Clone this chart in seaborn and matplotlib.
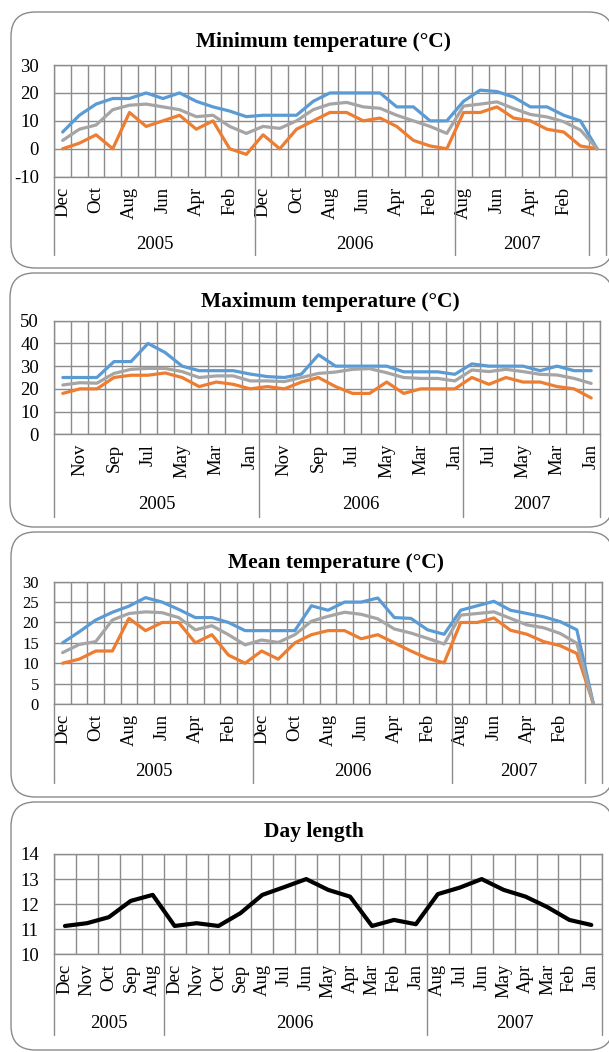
import numpy as np
import pandas as pd
import matplotlib
matplotlib.use('Agg')
import matplotlib.pyplot as plt
import matplotlib.transforms as mtransforms
from matplotlib.patches import FancyBboxPatch
import seaborn as sns

# --- data ---
months_33 = ['Dec', 'Nov', 'Oct', 'Sep', 'Aug', 'Jul', 'Jun', 'May', 'Apr', 'Mar', 'Feb', 'Jan',
             'Dec', 'Nov', 'Oct', 'Sep', 'Aug', 'Jul', 'Jun', 'May', 'Apr', 'Mar', 'Feb', 'Jan',
             'Aug', 'Jul', 'Jun', 'May', 'Apr', 'Mar', 'Feb', 'Jan', '']
months_32 = months_33[:32]
years_33 = [('2005', 12), ('2006', 12), ('2007', 8), ('', 1)]
years_32 = [('2005', 12), ('2006', 12), ('2007', 8)]

min_high = [6, 12, 16, 18, 18, 20, 18, 20, 17, 15, 13.5, 11.5, 12, 12, 12, 17, 20, 20, 20, 20,
            15, 15, 10, 10, 17, 21, 20.5, 18.5, 15, 15, 12, 10, 0]
min_low = [0, 2, 5, 0, 13, 8, 10, 12, 7, 10, 0, -2, 5, 0, 7, 10, 13, 13, 10, 11,
           8, 3, 1, 0, 13, 13, 15, 11, 10, 7, 6, 1, 0]
min_avg = [3, 7, 8.5, 14, 15.6, 16, 15, 14, 11.5, 12, 8, 5.5, 8, 7.3, 10, 14, 16, 16.6, 15, 14.5,
           12, 10, 8, 5.5, 15.3, 16, 16.8, 14.4, 12.3, 11.4, 9.7, 6.7, 0]

max_high = [25, 25, 25, 32, 32, 40, 36, 30, 28, 28, 28, 26.5, 25.4, 25, 26.5, 35, 30, 30, 30, 30,
            27.5, 27.5, 27.5, 26.4, 31, 30, 30, 30, 28, 30, 28, 28]
max_low = [18, 20, 20, 25, 26, 26, 27, 25, 21, 23, 22, 20, 21, 20, 23, 25, 21, 18, 18, 23,
           18, 20, 20, 20, 25, 22, 25, 23, 23, 21, 20, 16]
max_avg = [21.7, 22.7, 22.5, 26.8, 28.6, 29, 29, 27.6, 25, 25.7, 25.7, 23.5, 23.5, 23.2, 25, 26.8,
           27.4, 28.6, 28.9, 27.1, 25, 24.6, 24.6, 23.5, 28.3, 27.6, 28.6, 27.6, 26.4, 26.1, 24.6, 22.4]

mean_high = [15, 17.7, 20.6, 22.5, 24, 26.1, 25, 23.2, 21.2, 21.2, 20, 18, 18, 18, 18, 24.1, 23, 25,
             25, 26, 21.2, 21, 18.2, 17.1, 23, 24.1, 25.2, 23, 22.2, 21.4, 20.2, 18.2, 0]
mean_low = [10, 11, 13, 13, 21, 18, 20, 20, 15, 17, 12, 10, 13, 11, 15, 17, 18, 18, 16, 17,
            15, 13, 11.2, 10.1, 20, 20, 21.1, 18.1, 17.1, 15.3, 14.3, 12.4, 0]
mean_avg = [12.6, 14.6, 15.3, 20.6, 22.2, 22.6, 22.4, 21.2, 18.2, 19.2, 17, 14.5, 15.7, 15.1, 17,
            20.3, 21.5, 22.5, 22, 20.9, 18.4, 17.4, 16.1, 14.7, 21.8, 22.2, 22.6, 21, 19.4, 18.7,
            17.3, 14.9, 0]

day_months = ['Dec', 'Nov', 'Oct', 'Sep', 'Aug',
              'Dec', 'Nov', 'Oct', 'Sep', 'Aug', 'Jul', 'Jun', 'May', 'Apr', 'Mar', 'Feb', 'Jan',
              'Aug', 'Jul', 'Jun', 'May', 'Apr', 'Mar', 'Feb', 'Jan']
day_years = [('2005', 5), ('2006', 12), ('2007', 8)]
day_length = [11.13, 11.24, 11.48, 12.13, 12.37, 11.13, 11.24, 11.13, 11.64, 12.37, 12.68, 13.0,
              12.57, 12.3, 11.13, 11.37, 11.2, 12.4, 12.66, 13.0, 12.57, 12.3, 11.88, 11.37, 11.17]

BLUE, ORANGE, GRAY = '#5B9BD5', '#ED7D31', '#A5A5A5'
GRID = '#8C8C8C'
W, H = 609, 1052

sns.set_style('white')
plt.rcParams['font.family'] = ['Liberation Serif', 'DejaVu Serif']
plt.rcParams['axes.unicode_minus'] = False
plt.rcParams['text.color'] = 'black'
plt.rcParams['xtick.color'] = 'black'
plt.rcParams['ytick.color'] = 'black'

fig = plt.figure(figsize=(W / 100, H / 100), dpi=100)


def add_box(x0, y0, x1, y1):
    box = FancyBboxPatch((x0 / W, 1 - y1 / H), (x1 - x0) / W, (y1 - y0) / H,
                         boxstyle='round,pad=0,rounding_size=0.04',
                         transform=fig.transFigure, facecolor='white',
                         edgecolor='#8A8A8A', linewidth=1.0, clip_on=False, zorder=-5,
                         mutation_aspect=W / H)
    fig.patches.append(box)


def make_panel(rect, title, title_xy, series, months, years, ylim, ystep,
               month_bottom, year_bottom, year_text_y, show_every=2, lw=2.3, ytick_size=13.5):
    x0, y0, x1, y1 = rect
    ax = fig.add_axes([x0 / W, 1 - y1 / H, (x1 - x0) / W, (y1 - y0) / H])
    ax.set_facecolor('none')
    n = len(months)

    # lines through seaborn
    for vals, color in series:
        df = pd.DataFrame({'x': np.arange(len(vals)) + 0.5, 'y': vals})
        sns.lineplot(data=df, x='x', y='y', color=color, linewidth=lw, ax=ax,
                     solid_joinstyle='round', solid_capstyle='round', zorder=3)

    ax.set_xlim(0, n)
    ax.set_ylim(*ylim)
    ax.set_xlabel('')
    ax.set_ylabel('')
    ax.set_yticks(np.arange(ylim[0], ylim[1] + ystep / 2, ystep))
    ax.set_yticklabels([f'{v:g}' for v in ax.get_yticks()], fontsize=ytick_size)
    ax.tick_params(axis='y', length=0, pad=11)

    # category boundaries as major ticks (long, through the month row), labels on minor ticks
    ax.set_xticks(np.arange(n + 1))
    ax.set_xticklabels([])
    ax.set_xticks(np.arange(n) + 0.5, minor=True)
    shown = [m if i % show_every == 0 else '' for i, m in enumerate(months)]
    ax.set_xticklabels(shown, minor=True, rotation=90, fontsize=13.5)
    tick_len = (month_bottom - y1) * 0.72
    ax.tick_params(axis='x', which='major', length=tick_len, color=GRID, width=1.0, direction='out')
    ax.tick_params(axis='x', which='minor', length=0, pad=7)

    ax.grid(True, which='major', color=GRID, linewidth=1.0)
    ax.set_axisbelow(True)
    for s in ax.spines.values():
        s.set_color(GRID)
        s.set_linewidth(1.0)

    # outer level: years
    trans = mtransforms.blended_transform_factory(ax.transData, ax.transAxes)
    h = y1 - y0
    ybot = -(year_bottom - y1) / h
    ytxt = -(year_text_y - y1) / h
    start = 0
    for name, cnt in years:
        ax.plot([start, start], [0, ybot], transform=trans, color=GRID, lw=1.0, clip_on=False)
        ax.text(start + cnt / 2, ytxt, name, transform=trans, ha='center', va='center', fontsize=13.5)
        start += cnt
    ax.plot([start, start], [0, ybot], transform=trans, color=GRID, lw=1.0, clip_on=False)

    fig.text(title_xy[0] / W, 1 - title_xy[1] / H, title, ha='center', va='center',
             fontsize=15.5, fontweight='bold')
    return ax


add_box(11, 12, 613, 268)
add_box(10, 273, 613, 527)
add_box(11, 532, 613, 797)
add_box(11, 802, 613, 1050)

make_panel((54.3, 65, 605.5, 176.7), 'Minimum temperature (°C)', (323, 42),
           [(min_high, BLUE), (min_low, ORANGE), (min_avg, GRAY)],
           months_33, years_33, (-10, 30), 10, 222, 255, 244.5)

make_panel((54.3, 320.7, 599.7, 434.3), 'Maximum temperature (°C)', (330, 302),
           [(max_high, BLUE), (max_low, ORANGE), (max_avg, GRAY)],
           [m if i % 2 == 1 else '' for i, m in enumerate(months_32)], years_32, (0, 50), 10,
           481.7, 516.7, 505, show_every=1)

make_panel((54.3, 581.7, 601.7, 704), 'Mean temperature (°C)', (336, 563),
           [(mean_high, BLUE), (mean_low, ORANGE), (mean_avg, GRAY)],
           months_33, years_33, (0, 30), 5, 748, 783, 771.7, ytick_size=12)

make_panel((54, 854, 602.3, 954.3), 'Day length', (314, 832),
           [(day_length, 'black')],
           day_months, day_years, (10, 14), 1, 1001.7, 1035, 1024, show_every=1, lw=3.0)

fig.savefig('out.png', dpi=100)
